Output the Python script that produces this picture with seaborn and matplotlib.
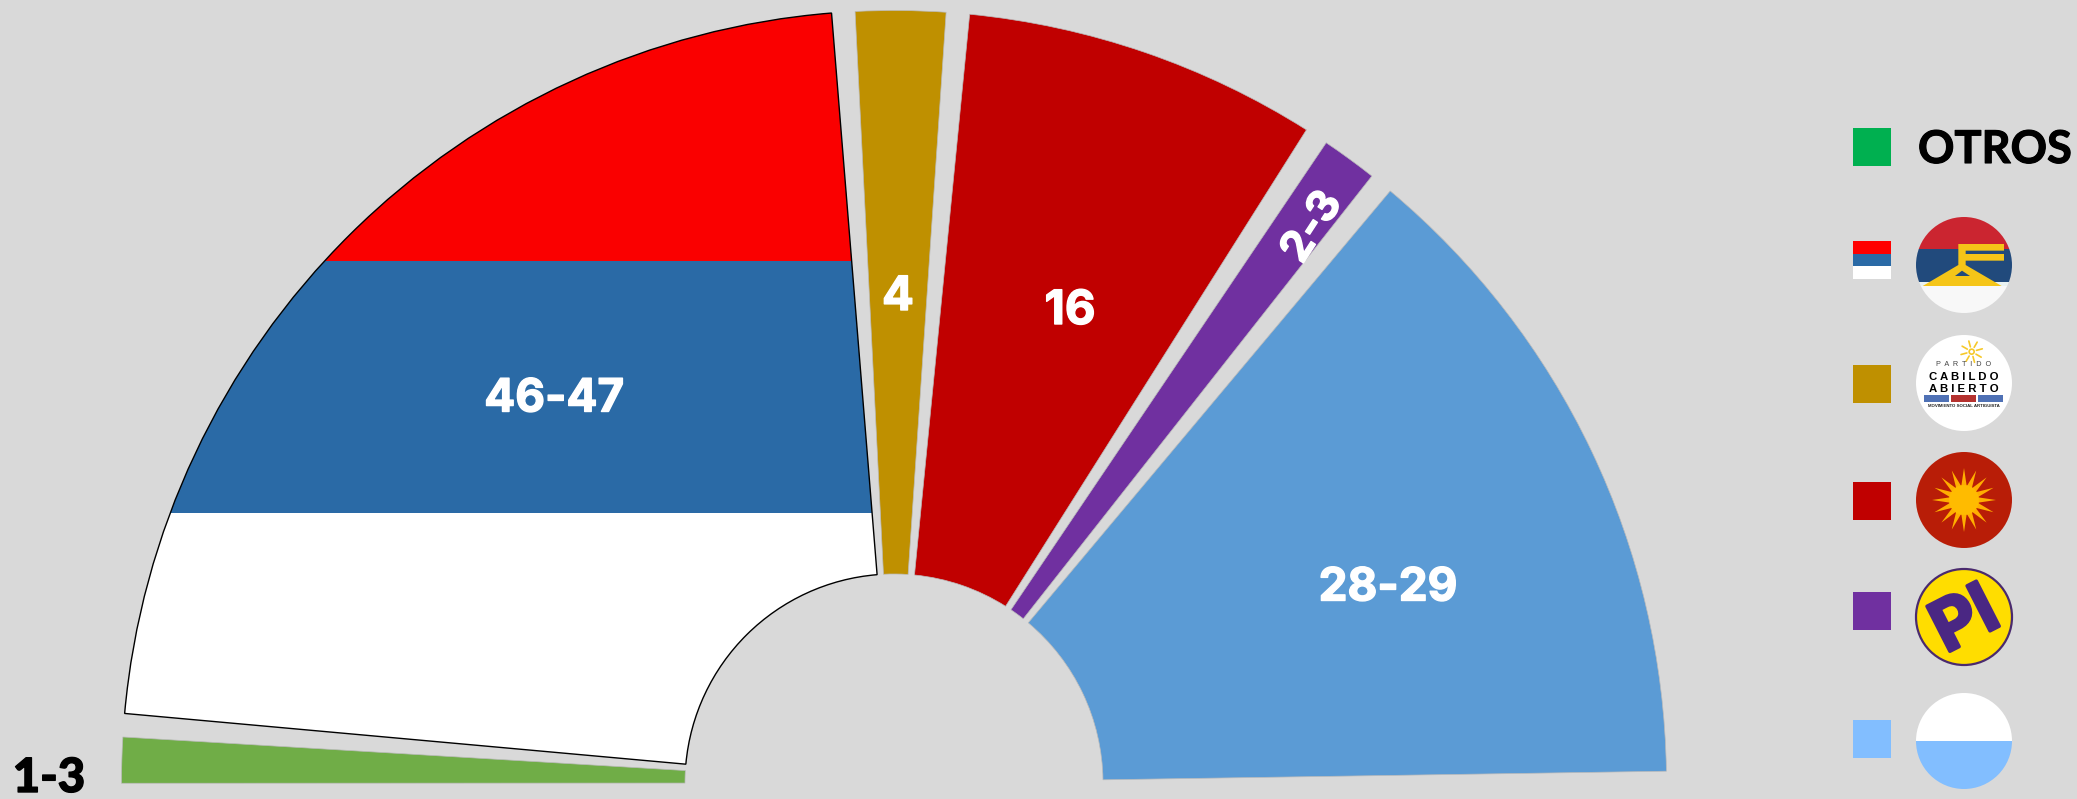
import numpy as np
import matplotlib
matplotlib.use("Agg")
import matplotlib.pyplot as plt
import matplotlib.patheffects as pe
from matplotlib.patches import Wedge, Rectangle, Circle, Polygon
import seaborn as sns

# ---- data (seat blocks, in order right -> left)
block_names = ["Frente Amplio", "PI", "Asamblea", "Cabildo Abierto", "Coalicion", "Otros"]
block_seats = [28.00, 3.27, 15.62, 4.68, 45.07, 2.37]
block_colors = ["#5B9BD5", "#7030A0", "#C00000", "#BF9000", "#FFFFFF", "#70AD47"]
block_texts = ["28-29", "2-3", "16", "4", "46-47", "1-3"]
total_seats = 99
band_colors = ["#FA0000", "#2A6AA6", "#FFFFFF"]
legend_colors = ["#00B050", None, "#BF9000", "#C00000", "#7030A0", "#82BEFF"]

BG = "#D9D9D9"
W, H = 2077, 799
sns.set_theme(style="white", rc={"figure.facecolor": BG, "axes.facecolor": BG, "savefig.facecolor": BG})
palette = sns.color_palette(block_colors)

def Y(y):
    return H - y

fig = plt.figure(figsize=(W / 100, H / 100), dpi=100)
ax = fig.add_axes([0, 0, 1, 1])
ax.set_xlim(0, W)
ax.set_ylim(0, H)
ax.set_aspect("equal")
ax.axis("off")

cx, cy = 894, Y(783)
R_out, R_in = 772.5, 209
gap = 1.75
edges = np.concatenate([[0], np.cumsum(block_seats)]) * 180 / total_seats

for i, name in enumerate(block_names):
    t1 = edges[i] + gap / 2
    t2 = edges[i + 1] - gap / 2
    if i == len(block_names) - 1:
        t2 = edges[i + 1]
    if i == 4:
        bands = [(Y(261), H), (Y(513), Y(261)), (0, Y(513))]
        for (y0, y1), col in zip(bands, band_colors):
            w = Wedge((cx, cy), R_out, t1, t2, width=R_out - R_in, fc=col, ec="none")
            ax.add_patch(w)
            w.set_clip_path(Rectangle((0, y0), W, y1 - y0, transform=ax.transData))
        ax.add_patch(Wedge((cx, cy), R_out, t1, t2, width=R_out - R_in, fc="none", ec="black", lw=1.0))
    else:
        ax.add_patch(Wedge((cx, cy), R_out, t1, t2, width=R_out - R_in,
                           fc=palette[i], ec="#BBBBBB", lw=0.5))

num_font = dict(family="Inter", weight="bold", ha="center", va="center_baseline")
stroke = [pe.withStroke(linewidth=1.0, foreground="white")]
ax.text(554, Y(395), block_texts[4], color="white", fontsize=33, path_effects=stroke, **num_font)
ax.text(898, Y(293), block_texts[3], color="white", fontsize=34, path_effects=stroke, **num_font)
ax.text(1070, Y(307), block_texts[2], color="white", fontsize=34, path_effects=stroke, **num_font)
ax.text(1309, Y(225), block_texts[1], color="white", fontsize=31, rotation=57, rotation_mode="anchor",
        path_effects=stroke, **num_font)
ax.text(1388, Y(584), block_texts[0], color="white", fontsize=33, path_effects=stroke, **num_font)
ax.text(49, Y(774), block_texts[5], color="black", fontsize=34, family="Lato", weight="black", ha="center",
        va="center_baseline", path_effects=[pe.withStroke(linewidth=1.0, foreground="black")])

# ---- legend swatches
sw_x, sw = 1853, 38
sw_tops = [128, 241, 365, 482, 592, 720]
for top, col in zip(sw_tops, legend_colors):
    if col is None:
        for k, c in enumerate(["#FF0000", "#2A6AA6", "#FFFFFF"]):
            ax.add_patch(Rectangle((sw_x, Y(top + (k + 1) * sw / 3)), sw, sw / 3, fc=c, ec="none"))
    else:
        ax.add_patch(Rectangle((sw_x, Y(top + sw)), sw, sw, fc=col, ec="none"))

ax.text(1918, Y(146), "OTROS", color="black", fontsize=32.5, family="Lato", weight="bold", ha="left",
        va="center_baseline", path_effects=[pe.withStroke(linewidth=0.8, foreground="black")])

# ---- logos
lx, lr = 1964, 48

def disc(cy_px, **kw):
    return Circle((lx, Y(cy_px)), lr, **kw)

def zoom_pts(pts, ox, oy):
    return [(ox + x / 3, Y(oy + y / 3)) for x, y in pts]

# tricolour logo
c = 265
clip = disc(c, transform=ax.transData)
for (y0, y1, col) in [(100, 249, "#CB2530"), (249, 282, "#214A7C"), (282, 286, "#E9F2F2"), (286, 320, "#F8F8F8")]:
    r = Rectangle((lx - lr, Y(y1)), 2 * lr, y1 - y0, fc=col, ec="none")
    ax.add_patch(r)
    r.set_clip_path(clip)
ax.add_patch(Polygon(zoom_pts([(475, 432), (612, 432), (612, 452), (497, 452), (497, 462), (612, 462), (612, 482),
                               (497, 482), (497, 495), (605, 558), (368, 558), (475, 495)], 1800, 100),
                     fc="#F5C518", ec="none"))
ax.add_patch(Polygon(zoom_pts([(465, 528), (510, 528), (486, 512)], 1800, 100), fc="#214A7C", ec="none"))

# Cabildo Abierto logo
c = 383
ax.add_patch(disc(c, fc="white", ec="none"))
sun_x, sun_y = 1800 + 515 / 3, Y(100 + 755 / 3)
for a in np.arange(0, 360, 45):
    ca, sa = np.cos(np.radians(a + 15)), np.sin(np.radians(a + 15))
    ax.plot([sun_x + 5 * ca, sun_x + 11 * ca], [sun_y + 5 * sa, sun_y + 11 * sa], color="#F6C92A", lw=1.2)
ax.add_patch(Circle((sun_x, sun_y), 2.5, fc="none", ec="#F6C92A", lw=1.2))
ax.text(lx, Y(365), "P  A  R  T  I  D  O", fontsize=5.2, color="#444444", family="Liberation Sans", ha="center", va="center")
ax.text(lx, Y(376.5), "C A B I L D O", fontsize=8.2, color="black", family="Liberation Sans", weight="bold", ha="center", va="center")
ax.text(lx, Y(389), "A B I E R T O", fontsize=8.2, color="black", family="Liberation Sans", weight="bold", ha="center", va="center")
for x0, x1, col in [(371, 448, "#4F71B5"), (453, 528, "#B5322F"), (533, 610, "#4F71B5")]:
    ax.add_patch(Rectangle((1800 + x0 / 3, Y(100 + 907 / 3)), (x1 - x0) / 3, 23 / 3, fc=col, ec="none"))
ax.text(lx, Y(406.3), "MOVIMIENTO SOCIAL ARTIGUISTA", fontsize=3.2, color="#222222", family="Liberation Sans",
        weight="bold", ha="center", va="center")

# sun logo
c = 500
ax.add_patch(disc(c, fc="#B81D07", ec="none"))
n = 16
ang = np.linspace(0, 2 * np.pi, 2 * n, endpoint=False)
rad = np.where(np.arange(2 * n) % 2 == 0, 32, 14)
ax.add_patch(Polygon(np.column_stack([lx + rad * np.cos(ang), Y(c) + rad * np.sin(ang)]), fc="#FFAE00", ec="none"))
ax.add_patch(Circle((lx, Y(c)), 15, fc="#FFBB00", ec="none"))

# PI logo
c = 617
ax.add_patch(disc(c, fc="#FFDD00", ec="#4A2A6E", lw=1.6))
ax.text(lx - 1, Y(c - 1), "PI", fontsize=50, color="#4A2783", family="Inter", weight="bold",
        rotation=27, ha="center", va="center_baseline", rotation_mode="anchor",
        path_effects=[pe.withStroke(linewidth=2.5, foreground="#4A2783")])

# blue logo
c = 741
clip = disc(c, transform=ax.transData)
for y0, col in [(c - lr, "white"), (c, "#82BEFF")]:
    r = Rectangle((lx - lr, Y(y0 + lr)), 2 * lr, lr, fc=col, ec="none")
    ax.add_patch(r)
    r.set_clip_path(clip)

fig.savefig("out.png", dpi=100, facecolor=BG)
